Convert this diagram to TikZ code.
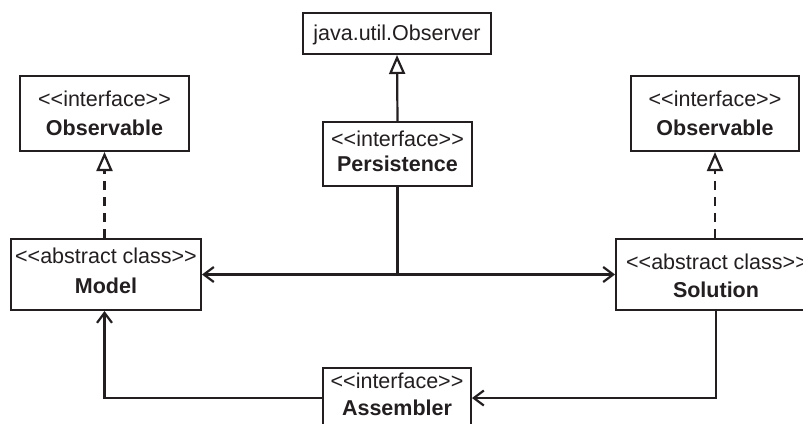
\documentclass[tikz,border=0pt]{standalone}
\usepackage{fontspec}
\setmainfont{Liberation Sans}
\usetikzlibrary{arrows.meta}
\definecolor{ink}{RGB}{35,31,32}
\newcommand{\stereo}[1]{{<}{<}#1{>}{>}}
\begin{document}
\begin{tikzpicture}[x=1pt,y=-1pt,
  box/.style={draw=ink,line width=2pt,fill=white,inner sep=0pt,minimum width=#1},
  txt/.style={text=ink,inner sep=0pt,anchor=base,font=\fontsize{21.5}{25}\selectfont},
  btxt/.style={txt,font=\fontsize{21.5}{25}\selectfont\bfseries},
  link/.style={draw=ink,line width=2.2pt},
  realize/.style={link,-{Triangle[open,length=19pt,width=16pt,fill=white]}},
  assoc/.style={link,-{Straight Barb[length=10pt,width=15pt]}},
  dashline/.style={dash pattern=on 9pt off 7pt}]
\useasboundingbox (0,0) rectangle (803,423);
\clip (0,0) rectangle (803,423);

% class boxes
\node[box=188pt,minimum height=41pt] (observer) at (397,33.5) {};
\node[box=169pt,minimum height=75pt] (obsL) at (104.5,113.5) {};
\node[box=168pt,minimum height=75pt] (obsR) at (715,113.5) {};
\node[box=149pt,minimum height=64pt] (pers) at (397.5,154) {};
\node[box=190pt,minimum height=71pt] (model) at (106,274.5) {};
\node[box=200pt,minimum height=71pt] (sol) at (716,274.5) {};
\node[box=148pt,minimum height=72pt] (asm) at (397,404) {};

% box texts
\node[txt] (observer-t) at (397,40) {java.util.Observer};
\node[txt] (obsL-s) at (104.5,106) {\stereo{interface}};
\node[btxt] (obsL-n) at (104.5,135) {Observable};
\node[txt] (obsR-s) at (715,106) {\stereo{interface}};
\node[btxt] (obsR-n) at (715,135) {Observable};
\node[txt] (pers-s) at (397.5,146) {\stereo{interface}};
\node[btxt] (pers-n) at (397.5,171) {Persistence};
\node[txt] (model-s) at (106,263) {\stereo{abstract class}};
\node[btxt] (model-n) at (106,293.5) {Model};
\node[txt] (sol-s) at (717,269) {\stereo{abstract class}};
\node[btxt] (sol-n) at (716,297) {Solution};
\node[txt] (asm-s) at (397,388) {\stereo{interface}};
\node[btxt] (asm-n) at (397,415) {Assembler};

% generalization and realization
\draw[realize] (pers.north) -- (observer.south);
\draw[realize,dashline] (obsL.south |- model.north) -- (obsL.south);
\draw[realize,dashline] (obsR.south |- sol.north) -- (obsR.south);

% associations
\coordinate (hub) at (pers.south |- model.east);
\draw[link] (pers.south) -- (hub);
\draw[assoc] (hub) -- (model.east);
\draw[assoc] (hub) -- (sol.west);
\draw[assoc] ([yshift=6pt]asm.west) -| (obsL.south |- model.south);
\draw[assoc] (sol.south) |- ([yshift=6pt]asm.east);
\end{tikzpicture}
\end{document}
